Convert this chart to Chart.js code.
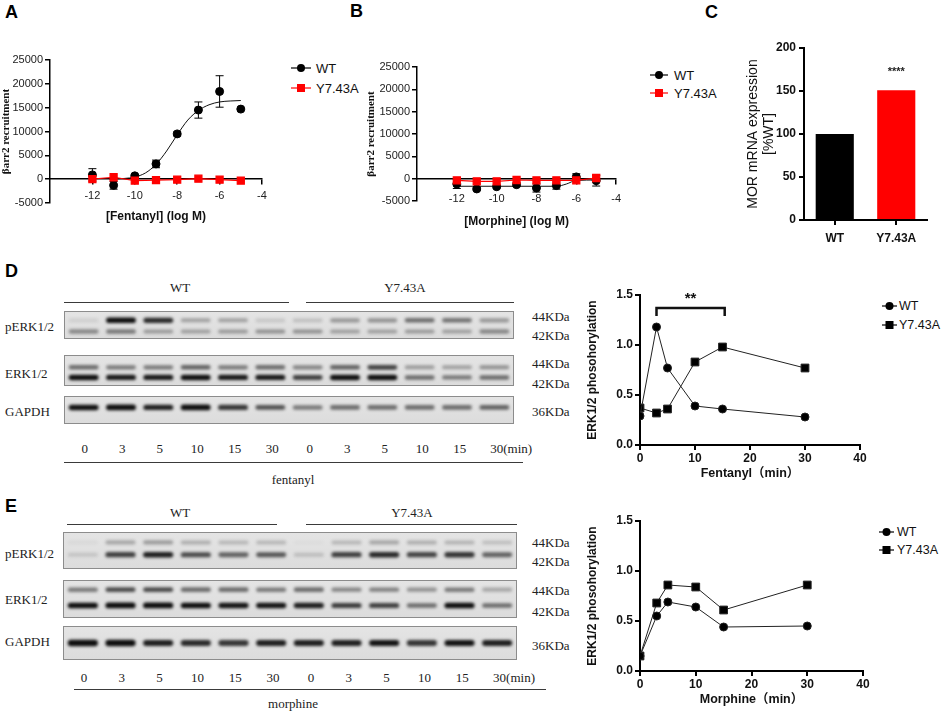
<!DOCTYPE html>
<html>
<head>
<meta charset="utf-8">
<script src="https://cdn.jsdelivr.net/npm/chart.js@4.4.1/dist/chart.umd.min.js"></script>
<style>
  body { margin: 0; width: 941px; height: 713px; position: relative; overflow: hidden; background: #fff;
         font-family: Arial, "Liberation Sans", sans-serif; color: #111; }
  canvas { position: absolute; }
  .t { position: absolute; white-space: nowrap; line-height: 1; }
  .serif { font-family: "Liberation Serif", "Times New Roman", serif; font-size: 13px; color: #222; }
  .panel { font: bold 18px Arial, "Liberation Sans", sans-serif; color: #000; }
  .leg { font-size: 13px; color: #111; }
  .leg.sm { font-size: 12.5px; }
  .hl { position: absolute; height: 0; border-top: 1px solid #3a3a3a; }
  .strip { position: absolute; box-sizing: border-box; border: 1px solid #8c8c8c;
           background: linear-gradient(#e4e4e4, #dcdcdc); }
  .strip canvas { position: absolute; left: 0; top: 0; }
  svg { position: absolute; }
</style>
</head>
<body>
<canvas id="chartA" width="275" height="196" style="left:0;top:40px"></canvas>
<canvas id="chartB" width="265" height="190" style="left:365px;top:46px"></canvas>
<canvas id="chartC" width="192" height="222" style="left:745px;top:28px"></canvas>
<canvas id="chartD" width="290" height="203" style="left:585px;top:284px"></canvas>
<canvas id="chartE" width="293" height="204" style="left:585px;top:509px"></canvas>

<script>
Chart.defaults.font.family = 'Arial, "Liberation Sans", "Noto Sans CJK SC", sans-serif';
Chart.defaults.color = '#111';
Chart.defaults.animation = false;

// ---------------- data ----------------

// A / B : beta-arrestin2 recruitment
const logDose = [-12, -11, -10, -9, -8, -7, -6, -5];
const fenWT = [900, -1300, 700, 3200, 9500, 14500, 18400, 14700];
const fenWTErr = [1300, 800, 300, 800, 400, 1700, 3300, 0];
const fenY743A = [0, 400, -300, -200, -100, 100, -100, -300];
const fenFitX = [-11.2, -10.5, -10, -9.5, -9, -8.5, -8, -7.5, -7, -6.5, -6, -5.5, -5];
const fenFitWT = [0, 150, 450, 1300, 3100, 5900, 9300, 12400, 14400, 15600, 16200, 16400, 16500];

const morWT = [-1200, -2300, -1800, -1350, -2100, -1550, 400, -450];
const morWTErr = [1000, 300, 300, 400, 900, 800, 700, 1200];
const morY743A = [-370, -600, -600, -300, -370, -370, -370, 150];
const morFitX = [-12, -7, -6.5, -6, -5];
const morFitWT = [-1700, -1700, -1200, -400, -300];

const doseTicks = [-12, -10, -8, -6, -4];

// C : MOR mRNA
const mrnaGroups = ['WT', 'Y7.43A'];
const mrnaValues = [100, 151];

// D / E : ERK1/2 phosphorylation
const timeMin = [0, 3, 5, 10, 15, 30];
const fenErkWT = [0.29, 1.18, 0.77, 0.39, 0.36, 0.28];
const fenErkY = [0.37, 0.32, 0.36, 0.83, 0.98, 0.77];
const morErkWT = [0.15, 0.55, 0.69, 0.64, 0.44, 0.45];
const morErkY = [0.15, 0.68, 0.86, 0.84, 0.61, 0.86];

// western blots, band darkness 0..1 per lane (6 WT + 6 Y7.43A)
const laneLabels = ['0', '3', '5', '10', '15', '30', '0', '3', '5', '10', '15', '30(min)'];
const fenP44 = [0.08, 0.95, 0.8, 0.28, 0.28, 0.12, 0.15, 0.32, 0.35, 0.5, 0.48, 0.32];
const fenP42 = [0.38, 0.45, 0.3, 0.28, 0.3, 0.35, 0.35, 0.28, 0.28, 0.3, 0.28, 0.38];
const fenE44 = [0.5, 0.45, 0.45, 0.55, 0.45, 0.5, 0.4, 0.55, 0.7, 0.3, 0.28, 0.35];
const fenE42 = [0.95, 0.88, 0.88, 0.95, 0.88, 0.88, 0.7, 0.97, 1.0, 0.5, 0.45, 0.5];
const fenGapdh = [0.92, 0.95, 0.85, 0.95, 0.75, 0.62, 0.45, 0.5, 0.5, 0.5, 0.5, 0.55];

const morP44 = [0.04, 0.25, 0.3, 0.22, 0.18, 0.18, 0.02, 0.18, 0.25, 0.22, 0.2, 0.15];
const morP42 = [0.12, 0.7, 0.85, 0.65, 0.55, 0.6, 0.15, 0.7, 0.8, 0.68, 0.75, 0.55];
const morE44 = [0.45, 0.65, 0.65, 0.5, 0.5, 0.45, 0.5, 0.4, 0.42, 0.35, 0.45, 0.25];
const morE42 = [0.95, 1, 1, 0.95, 0.9, 0.9, 0.85, 0.72, 0.7, 0.5, 0.95, 0.5];
const morGapdh = [1, 0.95, 0.85, 0.8, 0.75, 0.85, 0.85, 0.85, 0.9, 0.75, 0.9, 0.85];


// ---------------- helpers ----------------

function xy(xs, ys) {
    return xs.map((x, i) => ({ x: x, y: ys[i] }));
}

function addText(txt, x, y, cls, anchor) {
    const d = document.createElement('div');
    d.className = 't ' + cls;
    d.textContent = txt;
    d.style.left = x + 'px';
    d.style.top = y + 'px';
    d.style.transform = anchor === 'l' ? 'translate(0,-50%)' : 'translate(-50%,-50%)';
    document.body.appendChild(d);
    return d;
}

function addLine(x1, x2, y) {
    const d = document.createElement('div');
    d.className = 'hl';
    d.style.left = x1 + 'px';
    d.style.width = (x2 - x1) + 'px';
    d.style.top = y + 'px';
    document.body.appendChild(d);
}

// legend entry: short line with marker, then text
function addLegend(txt, x1, x2, cy, textX, color, shape, cls) {
    const w = x2 - x1, c = w / 2;
    const m = shape === 'rect'
        ? '<rect x="' + (c - 4) + '" y="2" width="8" height="8" fill="' + color + '"/>'
        : '<circle cx="' + c + '" cy="6" r="4" fill="' + color + '"/>';
    document.body.insertAdjacentHTML('beforeend',
        '<svg width="' + w + '" height="12" style="left:' + x1 + 'px;top:' + (cy - 6) + 'px">' +
        '<line x1="0" y1="6" x2="' + w + '" y2="6" stroke="' + color + '" stroke-width="1.2"/>' + m + '</svg>');
    addText(txt, textX, cy, 'leg ' + (cls || ''), 'l');
}

// error bars (mean +/- error) drawn under the points
const errorBars = {
    id: 'errorBars',
    beforeDatasetsDraw(chart) {
        const ctx = chart.ctx;
        const ys = chart.scales.y;
        chart.data.datasets.forEach((ds, i) => {
            if (!ds.errors) return;
            const meta = chart.getDatasetMeta(i);
            ctx.save();
            ctx.strokeStyle = ds.borderColor;
            ctx.lineWidth = 1;
            meta.data.forEach((pt, j) => {
                const e = ds.errors[j];
                if (!e) return;
                const v = ds.data[j].y;
                const top = ys.getPixelForValue(v + e);
                const bot = ys.getPixelForValue(v - e);
                ctx.beginPath();
                ctx.moveTo(pt.x, top); ctx.lineTo(pt.x, bot);
                ctx.moveTo(pt.x - 4, top); ctx.lineTo(pt.x + 4, top);
                ctx.moveTo(pt.x - 4, bot); ctx.lineTo(pt.x + 4, bot);
                ctx.stroke();
            });
            ctx.restore();
        });
    }
};

// soft edges for blot bands
const blurBands = {
    id: 'blurBands',
    beforeDatasetsDraw(chart) { chart.ctx.save(); chart.ctx.filter = 'blur(1.6px)'; },
    afterDatasetsDraw(chart) { chart.ctx.restore(); }
};


// ---------------- A / B dose response ----------------

function doseChart(id, wt, wtErr, mut, fitX, fitY, xTitle, yWidth, pad, tickPad, titlePad) {
    return new Chart(document.getElementById(id), {
        type: 'scatter',
        data: {
            datasets: [{
                label: 'Y7.43A',
                data: xy(logDose, mut),
                showLine: true,
                borderColor: '#ff0000',
                backgroundColor: '#ff0000',
                borderWidth: 1.2,
                pointStyle: 'rect',
                pointRadius: 5
            }, {
                label: 'WT',
                data: xy(logDose, wt),
                errors: wtErr,
                borderColor: '#000',
                backgroundColor: '#000',
                pointRadius: 4
            }, {
                label: 'WT fit',
                data: xy(fitX, fitY),
                showLine: true,
                borderColor: '#111',
                borderWidth: 1,
                pointRadius: 0,
                cubicInterpolationMode: 'monotone'
            }]
        },
        options: {
            responsive: false,
            events: [],
            layout: { padding: pad },
            plugins: { legend: { display: false }, tooltip: { enabled: false } },
            scales: {
                x: {
                    type: 'linear',
                    min: -14,
                    max: -4,
                    position: { y: 0 },
                    afterBuildTicks: s => { s.ticks = doseTicks.map(v => ({ value: v })); },
                    ticks: { color: '#222', font: { size: 11 }, padding: tickPad, callback: v => String(v) },
                    grid: { drawOnChartArea: false, color: '#000', lineWidth: 1.5, tickLength: 5 },
                    border: { color: '#000', width: 1.5 },
                    title: { display: true, text: xTitle, color: '#111', font: { size: 12, weight: 'bold' }, padding: { top: titlePad } }
                },
                y: {
                    min: -5000,
                    max: 25000,
                    afterFit: s => { s.width = yWidth; },
                    ticks: { stepSize: 5000, color: '#222', font: { size: 11 }, padding: 2, callback: v => String(v) },
                    grid: { drawOnChartArea: false, color: '#000', lineWidth: 1.5, tickLength: 5 },
                    border: { color: '#000', width: 1.5 },
                    title: {
                        display: true, text: 'βarr2 recruitment', color: '#111', padding: 0,
                        font: { family: '"Liberation Serif", serif', size: 11, weight: 'bold' }
                    }
                }
            }
        },
        plugins: [errorBars]
    });
}

doseChart('chartA', fenWT, fenWTErr, fenY743A, fenFitX, fenFitWT, '[Fentanyl] (log M)', 50,
    { top: 20, right: 13, bottom: 33, left: 0 }, 5, 2);
doseChart('chartB', morWT, morWTErr, morY743A, morFitX, morFitWT, '[Morphine] (log M)', 52,
    { top: 21, right: 10, bottom: 35, left: 0 }, 9, 0);


// ---------------- C mRNA ----------------

const starsLabel = {
    id: 'starsLabel',
    afterDatasetsDraw(chart) {
        const ctx = chart.ctx;
        const x = chart.scales.x.getPixelForValue(1);
        const y = chart.scales.y.getPixelForValue(172);
        ctx.save();
        ctx.fillStyle = '#222';
        ctx.font = 'bold 11px Arial';
        ctx.textAlign = 'center';
        ctx.textBaseline = 'middle';
        ctx.fillText('****', x, y);
        ctx.restore();
    }
};

new Chart(document.getElementById('chartC'), {
    type: 'bar',
    data: {
        labels: mrnaGroups,
        datasets: [{
            data: mrnaValues,
            backgroundColor: ['#000000', '#ff0000'],
            barPercentage: 0.62,
            categoryPercentage: 1
        }]
    },
    options: {
        responsive: false,
        events: [],
        layout: { padding: { top: 20, right: 10, bottom: 2, left: 0 } },
        plugins: { legend: { display: false }, tooltip: { enabled: false } },
        scales: {
            x: {
                afterFit: s => { s.height = 28; },
                ticks: { color: '#111', font: { size: 12, weight: 'bold' }, padding: 6 },
                grid: { drawOnChartArea: false, offset: false, color: '#000', lineWidth: 2, tickLength: 5 },
                border: { color: '#000', width: 2 }
            },
            y: {
                min: 0,
                max: 200,
                afterFit: s => { s.width = 59; },
                ticks: { stepSize: 50, color: '#111', font: { size: 12, weight: 'bold' }, padding: 3 },
                grid: { drawOnChartArea: false, color: '#000', lineWidth: 2, tickLength: 5 },
                border: { color: '#000', width: 2 },
                title: {
                    display: true, text: ['MOR mRNA expression', '[%WT]'], color: '#111',
                    font: { size: 14, lineHeight: 1.15 }, padding: { top: 0, bottom: 2 }
                }
            }
        }
    },
    plugins: [starsLabel]
});


// ---------------- D / E ERK time course ----------------

const sigBracket = {
    id: 'sigBracket',
    afterDatasetsDraw(chart, args, opts) {
        if (!opts.show) return;
        const ctx = chart.ctx;
        const xs = chart.scales.x, ys = chart.scales.y;
        const x1 = xs.getPixelForValue(3), x2 = xs.getPixelForValue(15.4);
        const yb = ys.getPixelForValue(1.37), yt = ys.getPixelForValue(1.29);
        ctx.save();
        ctx.strokeStyle = '#111';
        ctx.lineWidth = 2.5;
        ctx.beginPath();
        ctx.moveTo(x1, yt); ctx.lineTo(x1, yb); ctx.lineTo(x2, yb); ctx.lineTo(x2, yt);
        ctx.stroke();
        ctx.fillStyle = '#111';
        ctx.font = 'bold 15px Arial';
        ctx.textAlign = 'center';
        ctx.textBaseline = 'middle';
        ctx.fillText('**', (x1 + x2) / 2, ys.getPixelForValue(1.46));
        ctx.restore();
    }
};

function erkChart(id, wt, mut, xTitle, bracket, pad) {
    return new Chart(document.getElementById(id), {
        type: 'scatter',
        data: {
            datasets: [{
                label: 'WT',
                data: xy(timeMin, wt),
                showLine: true,
                borderColor: '#222',
                backgroundColor: '#000',
                borderWidth: 1,
                pointRadius: 4
            }, {
                label: 'Y7.43A',
                data: xy(timeMin, mut),
                showLine: true,
                borderColor: '#222',
                backgroundColor: '#000',
                borderWidth: 1,
                pointStyle: 'rect',
                pointRadius: 5.5
            }]
        },
        options: {
            responsive: false,
            events: [],
            layout: { padding: pad },
            plugins: { legend: { display: false }, tooltip: { enabled: false }, sigBracket: { show: bracket } },
            scales: {
                x: {
                    type: 'linear',
                    min: 0,
                    max: 40,
                    afterFit: s => { s.height = 40; },
                    ticks: { stepSize: 10, color: '#111', font: { size: 12, weight: 'bold' }, padding: 1 },
                    grid: { drawOnChartArea: false, color: '#000', lineWidth: 2, tickLength: 5 },
                    border: { color: '#000', width: 2 },
                    title: { display: true, text: xTitle, color: '#111', font: { size: 12.5, weight: 'bold' }, padding: { top: 7 } }
                },
                y: {
                    min: 0,
                    max: 1.5,
                    afterFit: s => { s.width = 55; },
                    ticks: { stepSize: 0.5, color: '#111', font: { size: 12, weight: 'bold' }, padding: 2, callback: v => v.toFixed(1) },
                    grid: { drawOnChartArea: false, color: '#000', lineWidth: 2, tickLength: 5 },
                    border: { color: '#000', width: 2 },
                    title: { display: true, text: 'ERK1/2 phosohorylation', color: '#111', font: { size: 12, weight: 'bold' }, padding: 0 }
                }
            }
        },
        plugins: [sigBracket]
    });
}

erkChart('chartD', fenErkWT, fenErkY, 'Fentanyl（min）', true, { top: 11, right: 15, bottom: 2, left: 0 });
erkChart('chartE', morErkWT, morErkY, 'Morphine（min）', false, { top: 12, right: 15, bottom: 2, left: 0 });


// ---------------- western blot strips ----------------

function blotStrip(box, bands) {
    const wrap = document.createElement('div');
    wrap.className = 'strip';
    wrap.style.left = box.l + 'px';
    wrap.style.top = box.t + 'px';
    wrap.style.width = box.w + 'px';
    wrap.style.height = box.h + 'px';
    const cv = document.createElement('canvas');
    cv.width = box.w - 2;
    cv.height = box.h - 2;
    wrap.appendChild(cv);
    document.body.appendChild(wrap);

    new Chart(cv, {
        type: 'bar',
        data: {
            labels: laneLabels,
            datasets: bands.map(b => ({
                data: b.dark.map(d => {
                    const half = b.thick * (0.6 + 0.4 * d) / 2;
                    return [b.pos - half, b.pos + half];
                }),
                backgroundColor: b.dark.map(d => 'rgba(12,12,12,' + Math.min(1, d * 1.08) + ')'),
                barPercentage: 0.8,
                categoryPercentage: 1,
                borderRadius: 3,
                borderSkipped: false,
                grouped: false
            }))
        },
        options: {
            responsive: false,
            events: [],
            layout: { padding: 0 },
            plugins: { legend: { display: false }, tooltip: { enabled: false } },
            scales: {
                x: { display: false },
                y: { display: false, min: 0, max: 1, reverse: true }
            }
        },
        plugins: [blurBands]
    });
}

function blotPanel(g, p44, p42, e44, e42, gapdh, drug) {
    blotStrip(g.p, [{ dark: p44, pos: g.pPos[0], thick: g.p.th }, { dark: p42, pos: g.pPos[1], thick: g.p.th }]);
    blotStrip(g.e, [{ dark: e44, pos: g.ePos[0], thick: g.e.th }, { dark: e42, pos: g.ePos[1], thick: g.e.th }]);
    blotStrip(g.g, [{ dark: gapdh, pos: g.gPos, thick: g.g.th }]);

    // group headers and lines
    addText('WT', g.wtX, g.headY, 'serif');
    addText('Y7.43A', g.yX, g.headY, 'serif');
    addLine(g.wtLine[0], g.wtLine[1], g.lineY);
    addLine(g.yLine[0], g.yLine[1], g.lineY);

    // row labels
    addText('pERK1/2', 5, g.rowY[0], 'serif', 'l');
    addText('ERK1/2', 5, g.rowY[1], 'serif', 'l');
    addText('GAPDH', 5, g.rowY[2], 'serif', 'l');

    // molecular weights
    ['44KDa', '42KDa', '44KDa', '42KDa', '36KDa'].forEach((k, i) => addText(k, 532, g.kdaY[i], 'serif', 'l'));

    // lane labels
    const lw = g.p.w / laneLabels.length;
    laneLabels.forEach((lab, i) => {
        const cx = g.p.l + (i + 0.5) * lw + 2;
        if (lab.indexOf('(') > 0) addText(lab, cx - 7, g.laneY, 'serif', 'l');
        else addText(lab, cx, g.laneY, 'serif');
    });
    addLine(g.botLine[0], g.botLine[1], g.botY);
    addText(drug, g.drugX, g.drugY, 'serif');
}

blotPanel({
    p: { l: 64, t: 311, w: 450, h: 28, th: 0.22 }, pPos: [0.32, 0.75],
    e: { l: 64, t: 355, w: 450, h: 31, th: 0.19 }, ePos: [0.39, 0.74],
    g: { l: 64, t: 396, w: 450, h: 28, th: 0.22 }, gPos: 0.4,
    wtX: 180, yX: 405, headY: 287, lineY: 302, wtLine: [64, 289], yLine: [306, 514],
    rowY: [326, 373, 411], kdaY: [316, 335, 363, 383, 411],
    laneY: 448, botLine: [64, 523], botY: 462, drugX: 293, drugY: 479
}, fenP44, fenP42, fenE44, fenE42, fenGapdh, 'fentanyl');

blotPanel({
    p: { l: 63, t: 532, w: 454, h: 37, th: 0.17 }, pPos: [0.27, 0.62],
    e: { l: 63, t: 580, w: 454, h: 38, th: 0.16 }, ePos: [0.24, 0.68],
    g: { l: 63, t: 626, w: 454, h: 34, th: 0.2 }, gPos: 0.5,
    wtX: 180, yX: 412, headY: 512, lineY: 524, wtLine: [67, 277], yLine: [306, 517],
    rowY: [553, 599, 641], kdaY: [542, 561, 590, 611, 645],
    laneY: 677, botLine: [74, 546], botY: 689, drugX: 293, drugY: 703
}, morP44, morP42, morE44, morE42, morGapdh, 'morphine');


// ---------------- panel letters & legends ----------------

addText('A', 5, 12, 'panel', 'l');
addText('B', 350, 11, 'panel', 'l');
addText('C', 705, 12, 'panel', 'l');
addText('D', 5, 271, 'panel', 'l');
addText('E', 5, 506, 'panel', 'l');

addLegend('WT', 291, 311, 68, 316, '#000', 'circle');
addLegend('Y7.43A', 291, 311, 88, 316, '#ff0000', 'rect');
addLegend('WT', 650, 668, 75, 674, '#000', 'circle');
addLegend('Y7.43A', 650, 668, 93, 674, '#ff0000', 'rect');
addLegend('WT', 882, 897, 306, 899, '#000', 'circle', 'sm');
addLegend('Y7.43A', 882, 897, 325, 899, '#000', 'rect', 'sm');
addLegend('WT', 879, 894, 532, 897, '#000', 'circle', 'sm');
addLegend('Y7.43A', 879, 894, 550, 897, '#000', 'rect', 'sm');
</script>
</body>
</html>
